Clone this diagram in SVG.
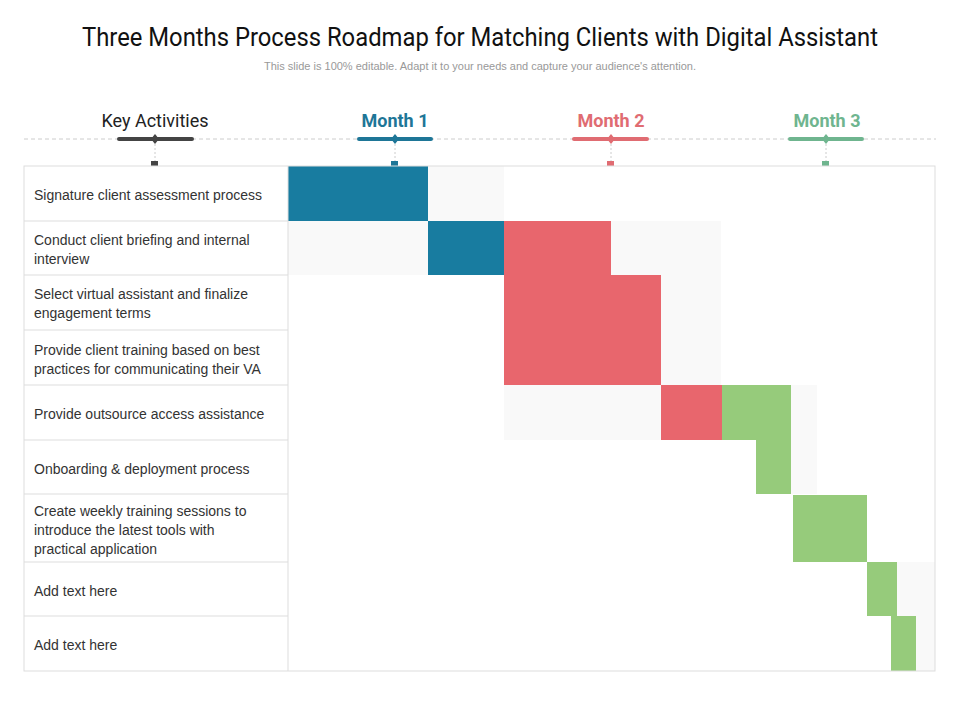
<svg xmlns="http://www.w3.org/2000/svg" width="960" height="720" viewBox="0 0 960 720">
<style>
text{font-family:"Liberation Sans",Arial,sans-serif}
.t{font-size:14px;fill:#333}
.g{fill:#f9f9f9}.b{fill:#187ca0}.r{fill:#e8666d}.n{fill:#96cb7b}
.hdr{font-family:Roboto,"Liberation Sans",sans-serif;font-size:18px;text-anchor:middle}
</style>
<rect width="960" height="720" fill="#fff"/>
<text x="480" y="46" text-anchor="middle" font-size="26" fill="#111" style="font-family:Roboto,'Liberation Sans',sans-serif" textLength="796" lengthAdjust="spacingAndGlyphs">Three Months Process Roadmap for Matching Clients with Digital Assistant</text>
<text x="480" y="70" text-anchor="middle" font-size="11" fill="#999">This slide is 100% editable. Adapt it to your needs and capture your audience's attention.</text>
<line x1="24" y1="139" x2="936" y2="139" stroke="#ccc" stroke-dasharray="4,3"/>
<g id="header">
<g id="h-key"><text class="hdr" x="155" y="127" fill="#222">Key Activities</text><line x1="119" y1="139" x2="192" y2="139" stroke="#444" stroke-width="4" stroke-linecap="round"/><path d="M155 134l4 5-4 5-4-5z" fill="#444"/><line x1="155" y1="144" x2="155" y2="161" stroke="#ccc" stroke-dasharray="2,2"/><rect x="151" y="161" width="7" height="5" fill="#444"/></g>
<g id="h-m1"><text class="hdr" x="395" y="127" fill="#1e7697" font-weight="bold">Month 1</text><line x1="359" y1="139" x2="431" y2="139" stroke="#1e7697" stroke-width="4" stroke-linecap="round"/><path d="M395 134l4 5-4 5-4-5z" fill="#1e7697"/><line x1="395" y1="144" x2="395" y2="161" stroke="#ccc" stroke-dasharray="2,2"/><rect x="391" y="161" width="7" height="5" fill="#1e7697"/></g>
<g id="h-m2"><text class="hdr" x="611" y="127" fill="#e06c72" font-weight="bold">Month 2</text><line x1="574" y1="139" x2="647" y2="139" stroke="#e06c72" stroke-width="4" stroke-linecap="round"/><path d="M611 134l4 5-4 5-4-5z" fill="#e06c72"/><line x1="611" y1="144" x2="611" y2="161" stroke="#ccc" stroke-dasharray="2,2"/><rect x="607" y="161" width="7" height="5" fill="#e06c72"/></g>
<g id="h-m3"><text class="hdr" x="827" y="127" fill="#6fb58f" font-weight="bold">Month 3</text><line x1="790" y1="139" x2="862" y2="139" stroke="#6fb58f" stroke-width="4" stroke-linecap="round"/><path d="M826 134l4 5-4 5-4-5z" fill="#6fb58f"/><line x1="826" y1="144" x2="826" y2="161" stroke="#ccc" stroke-dasharray="2,2"/><rect x="822" y="161" width="7" height="5" fill="#6fb58f"/></g>
</g>
<g id="bars">
<rect class="b" x="288" y="166" width="140" height="55"/><rect class="g" x="428" y="166" width="76" height="55"/>
<rect class="g" x="288" y="221" width="140" height="54"/><rect class="b" x="428" y="221" width="76" height="54"/><rect class="r" x="504" y="221" width="107" height="54"/><rect class="g" x="611" y="221" width="110" height="54"/>
<rect class="r" x="504" y="275" width="157" height="110"/><rect class="g" x="661" y="275" width="60" height="110"/>
<rect class="g" x="504" y="385" width="157" height="55"/><rect class="r" x="661" y="385" width="61" height="55"/><rect class="n" x="722" y="385" width="69" height="55"/><rect class="g" x="791" y="385" width="26" height="109"/>
<rect class="n" x="756" y="440" width="35" height="54"/>
<rect class="n" x="793" y="495" width="74" height="67"/>
<rect class="n" x="867" y="562" width="30" height="54"/><rect class="g" x="897" y="562" width="38" height="54"/>
<rect class="n" x="891" y="616" width="25" height="55"/><rect class="g" x="916" y="616" width="19" height="55"/>
</g>
<g id="grid" fill="none" stroke="#ddd">
<rect x="24" y="166" width="911" height="505"/>
<line x1="288" y1="166" x2="288" y2="671"/>
<path d="M24 221H288M24 275H288M24 330H288M24 385H288M24 440H288M24 494H288M24 562H288M24 616H288"/>
</g>
<g id="rows">
<text class="t" x="34" y="200">Signature client assessment process</text>
<text class="t" x="34" y="245">Conduct client briefing and internal</text><text class="t" x="34" y="264">interview</text>
<text class="t" x="34" y="299">Select virtual assistant and finalize</text><text class="t" x="34" y="318">engagement terms</text>
<text class="t" x="34" y="355">Provide client training based on best</text><text class="t" x="34" y="374">practices for communicating  their VA</text>
<text class="t" x="34" y="419">Provide outsource access assistance</text>
<text class="t" x="34" y="474">Onboarding &amp; deployment process</text>
<text class="t" x="34" y="516">Create weekly training sessions to</text><text class="t" x="34" y="535">introduce the latest tools with</text><text class="t" x="34" y="554">practical application</text>
<text class="t" x="34" y="596">Add text here</text>
<text class="t" x="34" y="650">Add text here</text>
</g>
</svg>
